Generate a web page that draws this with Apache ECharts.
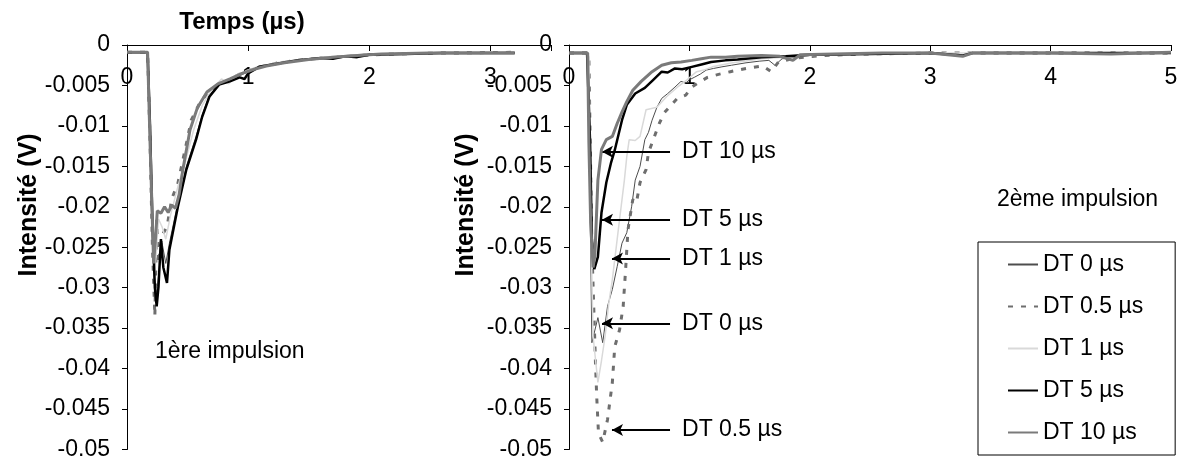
<!DOCTYPE html>
<html>
<head>
<meta charset="utf-8">
<script src="https://cdn.jsdelivr.net/npm/echarts@6/dist/echarts.min.js"></script>
<style>html,body{margin:0;padding:0;background:#fff;}#c{width:1184px;height:461px;}</style>
</head>
<body>
<div id="c"></div>
<script>
// ---- data (time in µs, intensity in V) ----
const seriesNames = ['DT 0 µs', 'DT 0.5 µs', 'DT 1 µs', 'DT 5 µs', 'DT 10 µs'];
const xTicksLeft = [0, 1, 2, 3];
const xTicksRight = [0, 1, 2, 3, 4, 5];

// 1ère impulsion (left)
const left_DT0 = [[0,-0.0009],[0.17,-0.0009],[0.19,-0.012],[0.21,-0.024],[0.235,-0.031],[0.25,-0.03],[0.27,-0.027],[0.29,-0.0245],[0.32,-0.027],[0.35,-0.0245],[0.42,-0.0195],[0.49,-0.015],[0.57,-0.0113],[0.62,-0.0087],[0.68,-0.0062],[0.76,-0.0048],[0.85,-0.0043],[0.93,-0.0038],[1.0,-0.0033],[1.1,-0.0027],[1.2,-0.0023],[1.4,-0.0019],[1.6,-0.0016],[1.8,-0.0013],[2.0,-0.0011],[2.4,-0.001],[2.8,-0.001],[3.2,-0.0009]];
const left_DT05 = [[0,-0.0009],[0.17,-0.0009],[0.19,-0.012],[0.21,-0.025],[0.23,-0.0335],[0.245,-0.0216],[0.26,-0.027],[0.29,-0.0235],[0.33,-0.0225],[0.37,-0.019],[0.42,-0.0171],[0.45,-0.015],[0.5,-0.0115],[0.53,-0.0093],[0.6,-0.0072],[0.68,-0.0056],[0.78,-0.0048],[0.85,-0.0043],[0.93,-0.0036],[1.0,-0.0032],[1.1,-0.0027],[1.25,-0.0022],[1.45,-0.0018],[1.7,-0.0015],[1.9,-0.0013],[2.2,-0.0011],[2.6,-0.001],[3.2,-0.0009]];
const left_DT1 = [[0,-0.0009],[0.17,-0.0009],[0.19,-0.012],[0.21,-0.024],[0.225,-0.029],[0.24,-0.026],[0.26,-0.0215],[0.29,-0.0225],[0.32,-0.024],[0.36,-0.021],[0.42,-0.0175],[0.48,-0.0145],[0.55,-0.0105],[0.62,-0.0075],[0.7,-0.0055],[0.78,-0.0042],[0.84,-0.0048],[0.9,-0.0037],[1.0,-0.0031],[1.1,-0.0026],[1.3,-0.002],[1.6,-0.0015],[2.0,-0.0011],[2.5,-0.001],[3.2,-0.0009]];
const left_DT5 = [[0,-0.0009],[0.17,-0.0009],[0.19,-0.01],[0.21,-0.022],[0.23,-0.03],[0.245,-0.0323],[0.26,-0.0299],[0.28,-0.024],[0.3,-0.0275],[0.33,-0.0294],[0.35,-0.0253],[0.42,-0.02],[0.49,-0.0154],[0.57,-0.0117],[0.62,-0.0089],[0.68,-0.0064],[0.76,-0.0049],[0.85,-0.0045],[0.93,-0.004],[0.97,-0.0042],[1.0,-0.0035],[1.09,-0.0027],[1.2,-0.0024],[1.4,-0.0019],[1.6,-0.0016],[1.7,-0.0017],[1.8,-0.0014],[1.9,-0.0015],[2.0,-0.0012],[2.3,-0.0011],[2.6,-0.001],[3.0,-0.001],[3.2,-0.001]];
const left_DT10 = [[0,-0.0009],[0.17,-0.0009],[0.19,-0.012],[0.21,-0.022],[0.22,-0.027],[0.235,-0.024],[0.25,-0.0205],[0.28,-0.0208],[0.31,-0.02],[0.34,-0.0207],[0.37,-0.0198],[0.4,-0.0202],[0.43,-0.0185],[0.46,-0.0155],[0.52,-0.0105],[0.58,-0.0078],[0.66,-0.0058],[0.75,-0.0048],[0.85,-0.0042],[0.95,-0.0035],[1.05,-0.003],[1.15,-0.0026],[1.3,-0.0022],[1.5,-0.0018],[1.7,-0.0015],[1.9,-0.0013],[2.1,-0.0011],[2.5,-0.001],[2.9,-0.001],[3.2,-0.001]];

// 2ème impulsion (right)
const right_DT0 = [[0,-0.001],[0.15,-0.001],[0.165,-0.0012],[0.175,-0.02],[0.19,-0.0368],[0.24,-0.0337],[0.28,-0.0368],[0.32,-0.0323],[0.36,-0.0302],[0.4,-0.0274],[0.44,-0.0245],[0.48,-0.0232],[0.52,-0.02],[0.55,-0.0167],[0.59,-0.015],[0.63,-0.0117],[0.66,-0.0108],[0.69,-0.0093],[0.73,-0.0077],[0.77,-0.0066],[0.82,-0.006],[0.88,-0.0052],[0.93,-0.0045],[0.97,-0.0047],[1.0,-0.0043],[1.04,-0.004],[1.09,-0.0036],[1.14,-0.0031],[1.2,-0.0029],[1.27,-0.0027],[1.35,-0.0025],[1.47,-0.0022],[1.58,-0.002],[1.66,-0.0019],[1.71,-0.0025],[1.77,-0.0017],[1.9,-0.0015],[2.0,-0.0013],[2.3,-0.0012],[2.6,-0.0011],[3.0,-0.001],[3.27,-0.0014],[3.35,-0.001],[4.0,-0.001],[4.5,-0.001],[5.0,-0.0009]];
const right_DT05 = [[0,-0.001],[0.15,-0.001],[0.165,-0.0015],[0.19,-0.025],[0.22,-0.0393],[0.23,-0.0434],[0.245,-0.048],[0.28,-0.0491],[0.32,-0.0463],[0.36,-0.0417],[0.38,-0.0373],[0.42,-0.0352],[0.45,-0.0323],[0.47,-0.0278],[0.49,-0.0228],[0.53,-0.0191],[0.56,-0.0195],[0.59,-0.017],[0.64,-0.0154],[0.66,-0.0133],[0.71,-0.0113],[0.75,-0.0097],[0.79,-0.0084],[0.85,-0.0074],[0.9,-0.0066],[0.97,-0.0062],[1.02,-0.0052],[1.07,-0.0047],[1.15,-0.004],[1.25,-0.0036],[1.34,-0.0033],[1.47,-0.0029],[1.61,-0.0026],[1.68,-0.0033],[1.74,-0.0021],[1.88,-0.0016],[2.1,-0.0013],[2.5,-0.0011],[3.0,-0.001],[4.0,-0.001],[5.0,-0.001]];
const right_DT1 = [[0,-0.001],[0.15,-0.001],[0.165,-0.0015],[0.185,-0.025],[0.2,-0.036],[0.24,-0.0417],[0.27,-0.039],[0.3,-0.036],[0.33,-0.032],[0.36,-0.029],[0.41,-0.0228],[0.46,-0.0167],[0.48,-0.0138],[0.5,-0.0117],[0.55,-0.0118],[0.59,-0.0113],[0.64,-0.008],[0.73,-0.0077],[0.81,-0.0064],[0.9,-0.0052],[0.98,-0.0043],[1.06,-0.0033],[1.12,-0.0031],[1.19,-0.0027],[1.36,-0.0022],[1.6,-0.0017],[2.0,-0.0013],[2.5,-0.0011],[3.0,-0.001],[4.0,-0.001],[5.0,-0.001]];
const right_DT5 = [[0,-0.001],[0.15,-0.001],[0.16,-0.0012],[0.175,-0.012],[0.19,-0.024],[0.21,-0.0277],[0.24,-0.0262],[0.27,-0.0207],[0.31,-0.017],[0.35,-0.0145],[0.38,-0.013],[0.44,-0.0093],[0.48,-0.0074],[0.55,-0.006],[0.63,-0.0053],[0.7,-0.0043],[0.77,-0.0033],[0.82,-0.0034],[0.88,-0.0029],[0.94,-0.003],[1.02,-0.0027],[1.1,-0.0024],[1.18,-0.0021],[1.3,-0.0019],[1.4,-0.0018],[1.6,-0.0015],[1.8,-0.0014],[2.0,-0.0012],[2.5,-0.0011],[3.0,-0.001],[3.27,-0.0013],[3.35,-0.001],[4.0,-0.001],[5.0,-0.001]];
const right_DT10 = [[0,-0.001],[0.155,-0.001],[0.165,-0.012],[0.18,-0.022],[0.2,-0.0275],[0.215,-0.026],[0.24,-0.0167],[0.27,-0.0129],[0.31,-0.0117],[0.36,-0.0113],[0.4,-0.0097],[0.44,-0.0083],[0.48,-0.007],[0.53,-0.0056],[0.6,-0.0045],[0.69,-0.0033],[0.77,-0.0025],[0.85,-0.0022],[0.93,-0.0021],[1.02,-0.0019],[1.1,-0.0017],[1.18,-0.0015],[1.3,-0.0015],[1.4,-0.0014],[1.6,-0.0013],[1.75,-0.0014],[1.86,-0.0019],[1.92,-0.0012],[2.2,-0.0011],[2.6,-0.001],[3.0,-0.001],[3.27,-0.0014],[3.35,-0.001],[4.0,-0.001],[4.5,-0.0011],[5.0,-0.0009]];

// annotation arrows: [label, y value, arrow-tip time]
const annotLabels = ['DT 10 µs', 'DT 5 µs', 'DT 1 µs', 'DT 0 µs', 'DT 0.5 µs'];
const annotY = [-0.0132, -0.0216, -0.0264, -0.0344, -0.0476];
const annotTip = [0.274, 0.274, 0.357, 0.274, 0.357];
const annotStart = 0.839;

// ---- styles ----
const FONT = 'Liberation Sans, Arial, sans-serif';
const styles = [
  {color: '#4d4d4d', width: 1, type: 'solid'},
  {color: '#6e6e6e', width: 3, type: [5, 8]},
  {color: '#d9d9d9', width: 1.5, type: 'solid'},
  {color: '#000000', width: 2.5, type: 'solid'},
  {color: '#7a7a7a', width: 3, type: 'solid'}
];
const leftData = [left_DT0, left_DT05, left_DT1, left_DT5, left_DT10];
const rightData = [right_DT0, right_DT05, right_DT1, right_DT5, right_DT10];

const yFmt = v => String(parseFloat(Number(v).toFixed(3)));

function yAxis(gi) {
  return {
    type: 'value', gridIndex: gi, min: -0.05, max: 0, interval: 0.005,
    axisLine: {show: true, lineStyle: {color: '#000', width: 1}},
    axisTick: {show: true, length: 5, lineStyle: {color: '#000'}},
    splitLine: {show: false},
    axisLabel: {color: '#000', fontFamily: FONT, fontSize: 23, margin: 17, formatter: yFmt}
  };
}
function xAxis(gi, max, ticks) {
  return {
    type: 'value', gridIndex: gi, position: 'top', min: 0, max: max, interval: 1,
    axisLine: {show: true, onZero: false, lineStyle: {color: '#000', width: 1}},
    axisTick: {show: true, inside: true, length: 6, lineStyle: {color: '#000'}},
    splitLine: {show: false},
    axisLabel: {inside: true, color: '#000', fontFamily: FONT, fontSize: 23, margin: 21,
      formatter: v => (ticks.indexOf(Math.round(v)) >= 0 && Math.abs(v - Math.round(v)) < 1e-9) ? String(Math.round(v)) : ''}
  };
}

const series = [];
leftData.forEach((d, i) => {
  series.push({name: seriesNames[i], type: 'line', xAxisIndex: 0, yAxisIndex: 0, data: d,
    symbol: 'none', showSymbol: false, animation: false, z: 2 + i,
    lineStyle: styles[i], itemStyle: {color: styles[i].color}});
});
rightData.forEach((d, i) => {
  series.push({name: seriesNames[i], type: 'line', xAxisIndex: 1, yAxisIndex: 1, data: d,
    symbol: 'none', showSymbol: false, animation: false, z: 2 + i,
    lineStyle: styles[i], itemStyle: {color: styles[i].color}});
});
// annotation arrows on the right chart
series.push({
  type: 'line', xAxisIndex: 1, yAxisIndex: 1, data: [], animation: false, z: 20,
  markLine: {
    silent: true, animation: false, symbol: ['none', 'arrow'], symbolSize: [9, 11], precision: 4,
    lineStyle: {color: '#000', width: 2, type: 'solid'},
    label: {show: true, position: 'start', distance: 12, color: '#000', fontFamily: FONT, fontSize: 23},
    data: annotLabels.map((t, i) => [
      {coord: [annotStart, annotY[i]], label: {formatter: t}},
      {coord: [annotTip[i], annotY[i]]}
    ])
  }
});

const chart = echarts.init(document.getElementById('c'), null, {renderer: 'canvas'});
chart.setOption({
  backgroundColor: '#fff',
  animation: false,
  grid: [
    {left: 127, top: 45, width: 424, height: 405.5, containLabel: false},
    {left: 569, top: 45, width: 602, height: 405.5, containLabel: false}
  ],
  xAxis: [xAxis(0, 3.5, xTicksLeft), xAxis(1, 5, xTicksRight)],
  yAxis: [yAxis(0), yAxis(1)],
  legend: {
    data: seriesNames, orient: 'vertical', left: 978, top: 242,
    itemWidth: 30, itemHeight: 12, itemGap: 19,
    padding: [11, 32, 11, 29], borderColor: '#000', borderWidth: 1,
    itemStyle: {opacity: 0},
    textStyle: {color: '#000', fontFamily: FONT, fontSize: 23, lineHeight: 23},
    selectedMode: false
  },
  graphic: [
    {type: 'text', x: 242, y: 22, style: {text: 'Temps (µs)', font: 'bold 24px ' + FONT, fill: '#000', textAlign: 'center', textVerticalAlign: 'middle'}},
    {type: 'text', x: 29, y: 205, rotation: Math.PI / 2, style: {text: 'Intensité (V)', font: 'bold 25px ' + FONT, fill: '#000', textAlign: 'center', textVerticalAlign: 'middle'}},
    {type: 'text', x: 466, y: 205, rotation: Math.PI / 2, style: {text: 'Intensité (V)', font: 'bold 25px ' + FONT, fill: '#000', textAlign: 'center', textVerticalAlign: 'middle'}},
    {type: 'text', x: 155, y: 352, style: {text: '1ère impulsion', font: '23px ' + FONT, fill: '#000', textAlign: 'left', textVerticalAlign: 'middle'}},
    {type: 'text', x: 997, y: 200, style: {text: '2ème impulsion', font: '23px ' + FONT, fill: '#000', textAlign: 'left', textVerticalAlign: 'middle'}}
  ],
  series: series
});
</script>
</body>
</html>
